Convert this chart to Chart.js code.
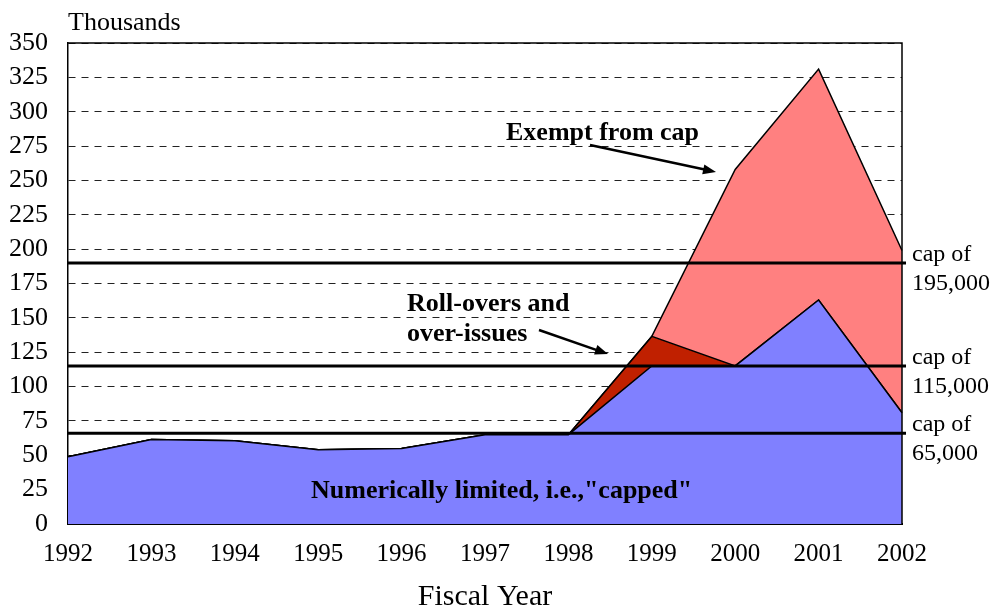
<!DOCTYPE html>
<html>
<head>
<meta charset="utf-8">
<script src="https://cdn.jsdelivr.net/npm/chart.js@4.4.1/dist/chart.umd.min.js"></script>
<style>
  html, body { margin: 0; padding: 0; background: #fff; }
  #wrap { position: absolute; left: 0; top: 0; width: 996px; height: 609px; }
</style>
</head>
<body>
<div id="wrap"><canvas id="capChart" width="996" height="609"></canvas></div>
<script>
// values in thousands
const years = ['1992', '1993', '1994', '1995', '1996', '1997', '1998', '1999', '2000', '2001', '2002'];
const capped = [49, 61.5, 60.5, 54, 55, 65, 65, 115, 115, 163, 81];
const rollovers = [0, 0, 0, 0, 0, 0, 0, 21.5, 0, 0, 0];
const exempt = [0, 0, 0, 0, 0, 0, 0, 0, 143, 168, 118];

const capLevels = [190, 115, 66];
const capLabels = [['cap of', '195,000'], ['cap of', '115,000'], ['cap of', '65,000']];

const SERIF = '"Liberation Serif", "Times New Roman", serif';

// cap lines, notes, arrows, plot frame
const notesPlugin = {
  id: 'notes',
  afterDatasetsDraw(chart) {
    const ctx = chart.ctx;
    const area = chart.chartArea;
    const y = chart.scales.y;

    ctx.save();
    // frame top and right
    ctx.strokeStyle = '#000';
    ctx.lineWidth = 1.5;
    ctx.beginPath();
    ctx.moveTo(area.left, area.top);
    ctx.lineTo(area.right, area.top);
    ctx.lineTo(area.right, area.bottom);
    ctx.stroke();

    // horizontal cap lines + labels
    ctx.lineWidth = 3;
    ctx.font = '24px ' + SERIF;
    ctx.fillStyle = '#000';
    ctx.textAlign = 'left';
    ctx.textBaseline = 'alphabetic';
    capLevels.forEach((v, i) => {
      const py = y.getPixelForValue(v);
      ctx.beginPath();
      ctx.moveTo(area.left, py);
      ctx.lineTo(area.right + 4, py);
      ctx.stroke();
      ctx.fillText(capLabels[i][0], area.right + 10, py - 2);
      ctx.fillText(capLabels[i][1], area.right + 10, py + 27);
    });

    // bold notes
    ctx.font = 'bold 26px ' + SERIF;
    ctx.fillText('Exempt from cap', 506, 140);
    ctx.fillText('Roll-overs and', 407, 311);
    ctx.fillText('over-issues', 407, 341);
    ctx.fillText('Numerically limited, i.e.,"capped"', 311, 498);

    function arrow(x1, y1, x2, y2) {
      const a = Math.atan2(y2 - y1, x2 - x1);
      ctx.lineWidth = 2.5;
      ctx.beginPath();
      ctx.moveTo(x1, y1);
      ctx.lineTo(x2 - 8 * Math.cos(a), y2 - 8 * Math.sin(a));
      ctx.stroke();
      ctx.beginPath();
      ctx.moveTo(x2, y2);
      ctx.lineTo(x2 - 13 * Math.cos(a) + 5 * Math.sin(a), y2 - 13 * Math.sin(a) - 5 * Math.cos(a));
      ctx.lineTo(x2 - 13 * Math.cos(a) - 5 * Math.sin(a), y2 - 13 * Math.sin(a) + 5 * Math.cos(a));
      ctx.closePath();
      ctx.fill();
    }
    arrow(590, 145, 716, 172);
    arrow(539, 330, 608, 354);

    // unit label
    ctx.font = '26px ' + SERIF;
    ctx.fillText('Thousands', 68, 30);
    ctx.restore();
  }
};

const areaLine = { borderColor: '#000', borderWidth: 1.5, pointRadius: 0, tension: 0 };

new Chart(document.getElementById('capChart').getContext('2d'), {
  type: 'line',
  data: {
    labels: years,
    datasets: [
      Object.assign({ label: 'Numerically limited', data: capped, backgroundColor: '#8080ff', fill: 'origin' }, areaLine),
      Object.assign({ label: 'Roll-overs and over-issues', data: rollovers, backgroundColor: '#c02000', fill: '-1' }, areaLine),
      Object.assign({ label: 'Exempt from cap', data: exempt, backgroundColor: '#ff8080', fill: '-1' }, areaLine),
    ],
  },
  options: {
    responsive: false,
    animation: false,
    layout: { padding: { left: 0, right: 94, top: 43, bottom: 0 } },
    plugins: { legend: { display: false }, tooltip: { enabled: false } },
    scales: {
      x: {
        offset: false,
        grid: { display: false },
        border: { display: true, color: '#000', width: 2 },
        ticks: { color: '#000', font: { family: SERIF, size: 25 }, padding: 7, maxRotation: 0, autoSkip: false },
        title: { display: true, text: 'Fiscal Year', color: '#000', font: { family: SERIF, size: 30, lineHeight: 0.8 }, padding: 0 },
        afterFit: (s) => { s.height = 85; },
      },
      y: {
        stacked: true,
        min: 0,
        max: 350,
        grid: { color: '#222', lineWidth: 1, drawTicks: false },
        border: { display: true, color: '#000', width: 1.5, dash: [7, 6] },
        ticks: { stepSize: 25, color: '#000', font: { family: SERIF, size: 26 }, padding: 20 },
        afterFit: (s) => { s.width = 68; },
      },
    },
  },
  plugins: [notesPlugin],
});
</script>
</body>
</html>
